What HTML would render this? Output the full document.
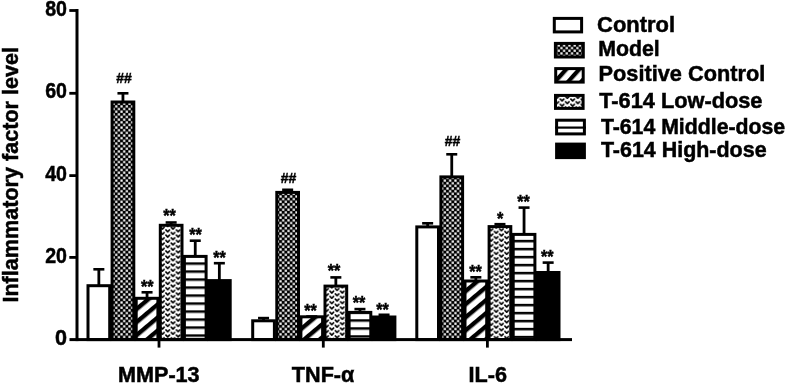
<!DOCTYPE html>
<html><head><meta charset="utf-8"><style>
html,body{margin:0;padding:0;background:#fff;}
svg{display:block;filter:blur(0.4px);}
.lb{font-family:"Liberation Sans",sans-serif;font-weight:bold;font-size:21.6px;fill:#000;stroke:#000;stroke-width:0.5px;}
.hh{font-family:"Liberation Sans",sans-serif;font-weight:bold;font-size:15px;fill:#000;stroke:#000;stroke-width:0.45px;}
.st{font-family:"Liberation Sans",sans-serif;font-weight:bold;font-size:18px;fill:#000;stroke:#000;stroke-width:0.45px;}
</style></head><body>
<svg width="787" height="385" viewBox="0 0 787 385">

<defs>
<pattern id="pChk" patternUnits="userSpaceOnUse" width="5.3" height="5.3" patternTransform="translate(0.9 1.65)">
  <rect width="5.3" height="5.3" fill="#000"/>
  <rect x="0.3" y="0.3" width="2.2" height="2.2" fill="#fff"/>
  <rect x="2.95" y="2.95" width="2.2" height="2.2" fill="#fff"/>
</pattern>
<pattern id="pDiag0" patternUnits="userSpaceOnUse" width="10" height="10" patternTransform="rotate(-40) translate(0 2.4)"><rect width="10" height="10" fill="#fff"/><rect width="10" height="4.4" fill="#000"/></pattern>
<pattern id="pDiag1" patternUnits="userSpaceOnUse" width="10" height="10" patternTransform="rotate(-40) translate(0 3.4)"><rect width="10" height="10" fill="#fff"/><rect width="10" height="4.4" fill="#000"/></pattern>
<pattern id="pDiag2" patternUnits="userSpaceOnUse" width="10" height="10" patternTransform="rotate(-40) translate(0 0.2)"><rect width="10" height="10" fill="#fff"/><rect width="10" height="4.4" fill="#000"/></pattern>
<pattern id="pDiagL" patternUnits="userSpaceOnUse" width="9.7" height="9.7" patternTransform="rotate(-48) translate(0 -0.5)">
  <rect width="9.7" height="9.7" fill="#fff"/>
  <rect width="9.7" height="4.2" fill="#000"/>
</pattern>
<pattern id="pHrt0" patternUnits="userSpaceOnUse" width="10.5" height="5.26" patternTransform="translate(165.07 229.00)"><rect width="10.5" height="5.26" fill="#fff"/><path d="M0.93 1.00 L2.62 2.70 L4.33 1.00" fill="none" stroke="#000" stroke-width="1.7" stroke-linejoin="round" stroke-linecap="round"/><path d="M6.17 3.63 L7.88 5.33 L9.57 3.63" fill="none" stroke="#000" stroke-width="1.7" stroke-linejoin="round" stroke-linecap="round"/><path d="M6.17 -1.63 L7.88 0.07 L9.57 -1.63" fill="none" stroke="#000" stroke-width="1.7" stroke-linejoin="round" stroke-linecap="round"/></pattern>
<pattern id="pHrt1" patternUnits="userSpaceOnUse" width="10.5" height="5.26" patternTransform="translate(329.18 290.30)"><rect width="10.5" height="5.26" fill="#fff"/><path d="M0.93 1.00 L2.62 2.70 L4.33 1.00" fill="none" stroke="#000" stroke-width="1.7" stroke-linejoin="round" stroke-linecap="round"/><path d="M6.17 3.63 L7.88 5.33 L9.57 3.63" fill="none" stroke="#000" stroke-width="1.7" stroke-linejoin="round" stroke-linecap="round"/><path d="M6.17 -1.63 L7.88 0.07 L9.57 -1.63" fill="none" stroke="#000" stroke-width="1.7" stroke-linejoin="round" stroke-linecap="round"/></pattern>
<pattern id="pHrt2" patternUnits="userSpaceOnUse" width="10.5" height="5.26" patternTransform="translate(493.57 241.10)"><rect width="10.5" height="5.26" fill="#fff"/><path d="M0.93 1.00 L2.62 2.70 L4.33 1.00" fill="none" stroke="#000" stroke-width="1.7" stroke-linejoin="round" stroke-linecap="round"/><path d="M6.17 3.63 L7.88 5.33 L9.57 3.63" fill="none" stroke="#000" stroke-width="1.7" stroke-linejoin="round" stroke-linecap="round"/><path d="M6.17 -1.63 L7.88 0.07 L9.57 -1.63" fill="none" stroke="#000" stroke-width="1.7" stroke-linejoin="round" stroke-linecap="round"/></pattern>
<pattern id="pHrtL" patternUnits="userSpaceOnUse" width="10.5" height="5.26" patternTransform="translate(559.48 98.20)"><rect width="10.5" height="5.26" fill="#fff"/><path d="M0.93 1.00 L2.62 2.70 L4.33 1.00" fill="none" stroke="#000" stroke-width="1.7" stroke-linejoin="round" stroke-linecap="round"/><path d="M6.17 3.63 L7.88 5.33 L9.57 3.63" fill="none" stroke="#000" stroke-width="1.7" stroke-linejoin="round" stroke-linecap="round"/><path d="M6.17 -1.63 L7.88 0.07 L9.57 -1.63" fill="none" stroke="#000" stroke-width="1.7" stroke-linejoin="round" stroke-linecap="round"/></pattern>
<pattern id="pHs0" patternUnits="userSpaceOnUse" width="10" height="8" patternTransform="translate(0 6.35)"><rect width="10" height="8" fill="#fff"/><rect width="10" height="2.5" fill="#000"/></pattern>
<pattern id="pHs1" patternUnits="userSpaceOnUse" width="10" height="8" patternTransform="translate(0 7.25)"><rect width="10" height="8" fill="#fff"/><rect width="10" height="2.5" fill="#000"/></pattern>
<pattern id="pHs2" patternUnits="userSpaceOnUse" width="10" height="8" patternTransform="translate(0 7.85)"><rect width="10" height="8" fill="#fff"/><rect width="10" height="2.5" fill="#000"/></pattern>
</defs>

<rect x="97.45" y="269.30" width="2.8" height="15.90" fill="#000"/>
<rect x="93.35" y="268.00" width="11" height="2.6" fill="#000"/>
<rect x="121.55" y="93.30" width="2.8" height="8.20" fill="#000"/>
<rect x="117.45" y="92.00" width="11" height="2.6" fill="#000"/>
<rect x="145.65" y="292.30" width="2.8" height="5.50" fill="#000"/>
<rect x="141.55" y="291.00" width="11" height="2.6" fill="#000"/>
<rect x="169.75" y="222.50" width="2.8" height="2.30" fill="#000"/>
<rect x="165.65" y="221.20" width="11" height="2.6" fill="#000"/>
<rect x="193.85" y="240.70" width="2.8" height="15.20" fill="#000"/>
<rect x="189.75" y="239.40" width="11" height="2.6" fill="#000"/>
<rect x="217.95" y="263.20" width="2.8" height="16.90" fill="#000"/>
<rect x="213.85" y="261.90" width="11" height="2.6" fill="#000"/>
<rect x="262.15" y="318.10" width="2.8" height="2.20" fill="#000"/>
<rect x="258.05" y="316.80" width="11" height="2.6" fill="#000"/>
<rect x="286.25" y="189.80" width="2.8" height="2.10" fill="#000"/>
<rect x="282.15" y="188.50" width="11" height="2.6" fill="#000"/>
<rect x="306.25" y="315.20" width="11" height="2.6" fill="#000"/>
<rect x="334.45" y="277.40" width="2.8" height="8.20" fill="#000"/>
<rect x="330.35" y="276.10" width="11" height="2.6" fill="#000"/>
<rect x="358.55" y="309.10" width="2.8" height="2.80" fill="#000"/>
<rect x="354.45" y="307.80" width="11" height="2.6" fill="#000"/>
<rect x="382.65" y="314.80" width="2.8" height="1.70" fill="#000"/>
<rect x="378.55" y="313.50" width="11" height="2.6" fill="#000"/>
<rect x="426.25" y="223.30" width="2.8" height="3.10" fill="#000"/>
<rect x="422.15" y="222.00" width="11" height="2.6" fill="#000"/>
<rect x="450.35" y="154.30" width="2.8" height="22.10" fill="#000"/>
<rect x="446.25" y="153.00" width="11" height="2.6" fill="#000"/>
<rect x="474.45" y="277.30" width="2.8" height="3.20" fill="#000"/>
<rect x="470.35" y="276.00" width="11" height="2.6" fill="#000"/>
<rect x="498.55" y="224.20" width="2.8" height="1.90" fill="#000"/>
<rect x="494.45" y="222.90" width="11" height="2.6" fill="#000"/>
<rect x="522.65" y="207.60" width="2.8" height="26.30" fill="#000"/>
<rect x="518.55" y="206.30" width="11" height="2.6" fill="#000"/>
<rect x="546.75" y="262.60" width="2.8" height="9.40" fill="#000"/>
<rect x="542.65" y="261.30" width="11" height="2.6" fill="#000"/>
<rect x="88.00" y="285.70" width="21.70" height="53.90" fill="#fff" stroke="#000" stroke-width="3.0"/>
<rect x="112.10" y="102.00" width="21.70" height="237.60" fill="url(#pChk)" stroke="#000" stroke-width="3.0"/>
<rect x="136.20" y="298.30" width="21.70" height="41.30" fill="url(#pDiag0)" stroke="#000" stroke-width="3.0"/>
<rect x="160.30" y="225.30" width="21.70" height="114.30" fill="url(#pHrt0)" stroke="#000" stroke-width="3.0"/>
<rect x="184.40" y="256.40" width="21.70" height="83.20" fill="url(#pHs0)" stroke="#000" stroke-width="3.0"/>
<rect x="208.50" y="280.60" width="21.70" height="59.00" fill="#000" stroke="#000" stroke-width="3.0"/>
<rect x="252.70" y="320.80" width="21.70" height="18.80" fill="#fff" stroke="#000" stroke-width="3.0"/>
<rect x="276.80" y="192.40" width="21.70" height="147.20" fill="url(#pChk)" stroke="#000" stroke-width="3.0"/>
<rect x="300.90" y="316.80" width="21.70" height="22.80" fill="url(#pDiag1)" stroke="#000" stroke-width="3.0"/>
<rect x="325.00" y="286.10" width="21.70" height="53.50" fill="url(#pHrt1)" stroke="#000" stroke-width="3.0"/>
<rect x="349.10" y="312.40" width="21.70" height="27.20" fill="url(#pHs1)" stroke="#000" stroke-width="3.0"/>
<rect x="373.20" y="317.00" width="21.70" height="22.60" fill="#000" stroke="#000" stroke-width="3.0"/>
<rect x="416.80" y="226.90" width="21.70" height="112.70" fill="#fff" stroke="#000" stroke-width="3.0"/>
<rect x="440.90" y="176.90" width="21.70" height="162.70" fill="url(#pChk)" stroke="#000" stroke-width="3.0"/>
<rect x="465.00" y="281.00" width="21.70" height="58.60" fill="url(#pDiag2)" stroke="#000" stroke-width="3.0"/>
<rect x="489.10" y="226.60" width="21.70" height="113.00" fill="url(#pHrt2)" stroke="#000" stroke-width="3.0"/>
<rect x="513.20" y="234.40" width="21.70" height="105.20" fill="url(#pHs2)" stroke="#000" stroke-width="3.0"/>
<rect x="537.30" y="272.50" width="21.70" height="67.10" fill="#000" stroke="#000" stroke-width="3.0"/>
<text x="124.00" y="83.30" class="hh" text-anchor="middle" textLength="15.6" lengthAdjust="spacingAndGlyphs">##</text>
<text x="147.30" y="292.60" class="st" text-anchor="middle" textLength="12.6" lengthAdjust="spacingAndGlyphs">**</text>
<text x="169.60" y="222.30" class="st" text-anchor="middle" textLength="12.6" lengthAdjust="spacingAndGlyphs">**</text>
<text x="195.60" y="241.20" class="st" text-anchor="middle" textLength="12.6" lengthAdjust="spacingAndGlyphs">**</text>
<text x="219.50" y="263.90" class="st" text-anchor="middle" textLength="12.6" lengthAdjust="spacingAndGlyphs">**</text>
<text x="288.60" y="183.00" class="hh" text-anchor="middle" textLength="15.6" lengthAdjust="spacingAndGlyphs">##</text>
<text x="310.50" y="316.50" class="st" text-anchor="middle" textLength="12.6" lengthAdjust="spacingAndGlyphs">**</text>
<text x="334.10" y="277.00" class="st" text-anchor="middle" textLength="12.6" lengthAdjust="spacingAndGlyphs">**</text>
<text x="359.00" y="309.20" class="st" text-anchor="middle" textLength="12.6" lengthAdjust="spacingAndGlyphs">**</text>
<text x="382.50" y="315.50" class="st" text-anchor="middle" textLength="12.6" lengthAdjust="spacingAndGlyphs">**</text>
<text x="452.50" y="146.10" class="hh" text-anchor="middle" textLength="15.6" lengthAdjust="spacingAndGlyphs">##</text>
<text x="475.60" y="278.30" class="st" text-anchor="middle" textLength="12.6" lengthAdjust="spacingAndGlyphs">**</text>
<text x="500.10" y="225.40" class="st" text-anchor="middle" textLength="6.4" lengthAdjust="spacingAndGlyphs">*</text>
<text x="523.60" y="208.00" class="st" text-anchor="middle" textLength="12.6" lengthAdjust="spacingAndGlyphs">**</text>
<text x="547.20" y="263.10" class="st" text-anchor="middle" textLength="12.6" lengthAdjust="spacingAndGlyphs">**</text>

<rect x="75.5" y="9" width="3" height="332.1" fill="#000"/>
<rect x="69.5" y="338.1" width="502.5" height="3" fill="#000"/>
<rect x="69.3" y="9.1" width="8" height="2.8" fill="#000"/>
<rect x="69.3" y="91.9" width="8" height="2.8" fill="#000"/>
<rect x="69.3" y="174.2" width="8" height="2.8" fill="#000"/>
<rect x="69.3" y="256.0" width="8" height="2.8" fill="#000"/>
<rect x="157.6" y="339.6" width="2.8" height="8.0" fill="#000"/>
<rect x="321.9" y="339.6" width="2.8" height="8.0" fill="#000"/>
<rect x="486.0" y="339.6" width="2.8" height="8.0" fill="#000"/>


<text x="67" y="16.4" class="lb" text-anchor="end" textLength="21.8" lengthAdjust="spacingAndGlyphs">80</text>
<text x="67" y="98.4" class="lb" text-anchor="end" textLength="21.8" lengthAdjust="spacingAndGlyphs">60</text>
<text x="67" y="181.0" class="lb" text-anchor="end" textLength="21.8" lengthAdjust="spacingAndGlyphs">40</text>
<text x="67" y="263.3" class="lb" text-anchor="end" textLength="21.8" lengthAdjust="spacingAndGlyphs">20</text>
<text x="67" y="345.0" class="lb" text-anchor="end">0</text>
<text x="158.8" y="382.1" class="lb" text-anchor="middle">MMP-13</text>
<text x="323.1" y="382.1" class="lb" text-anchor="middle">TNF-α</text>
<text x="487.8" y="382.1" class="lb" text-anchor="middle">IL-6</text>
<text transform="translate(17.6 174.8) rotate(-90)" class="lb" text-anchor="middle">Inflammatory factor level</text>

<rect x="554.30" y="18.40" width="27.30" height="13.50" fill="#fff" stroke="#000" stroke-width="3.0"/>
<rect x="555.40" y="43.40" width="27.90" height="13.60" fill="url(#pChk)" stroke="#000" stroke-width="3.0"/>
<rect x="555.70" y="68.60" width="27.50" height="13.50" fill="url(#pDiagL)" stroke="#000" stroke-width="3.0"/>
<rect x="555.50" y="95.40" width="27.60" height="13.00" fill="url(#pHrtL)" stroke="#000" stroke-width="3.0"/>
<rect x="556.60" y="120.20" width="27.80" height="13.70" fill="#fff" stroke="#000" stroke-width="3.0"/>
<rect x="555.10" y="126.5" width="30.80" height="2.2" fill="#000"/>
<rect x="556.60" y="144.10" width="27.80" height="13.50" fill="#000" stroke="#000" stroke-width="3.0"/>
<text x="597.10" y="31.50" class="lb" textLength="77.90" lengthAdjust="spacingAndGlyphs">Control</text>
<text x="598.20" y="56.30" class="lb" textLength="61.50" lengthAdjust="spacingAndGlyphs">Model</text>
<text x="598.60" y="81.30" class="lb" textLength="166.60" lengthAdjust="spacingAndGlyphs">Positive Control</text>
<text x="599.20" y="108.20" class="lb" textLength="163.30" lengthAdjust="spacingAndGlyphs">T-614 Low-dose</text>
<text x="600.90" y="133.50" class="lb" textLength="184.30" lengthAdjust="spacingAndGlyphs">T-614 Middle-dose</text>
<text x="600.90" y="156.60" class="lb" textLength="165.70" lengthAdjust="spacingAndGlyphs">T-614 High-dose</text>
</svg>
</body></html>
